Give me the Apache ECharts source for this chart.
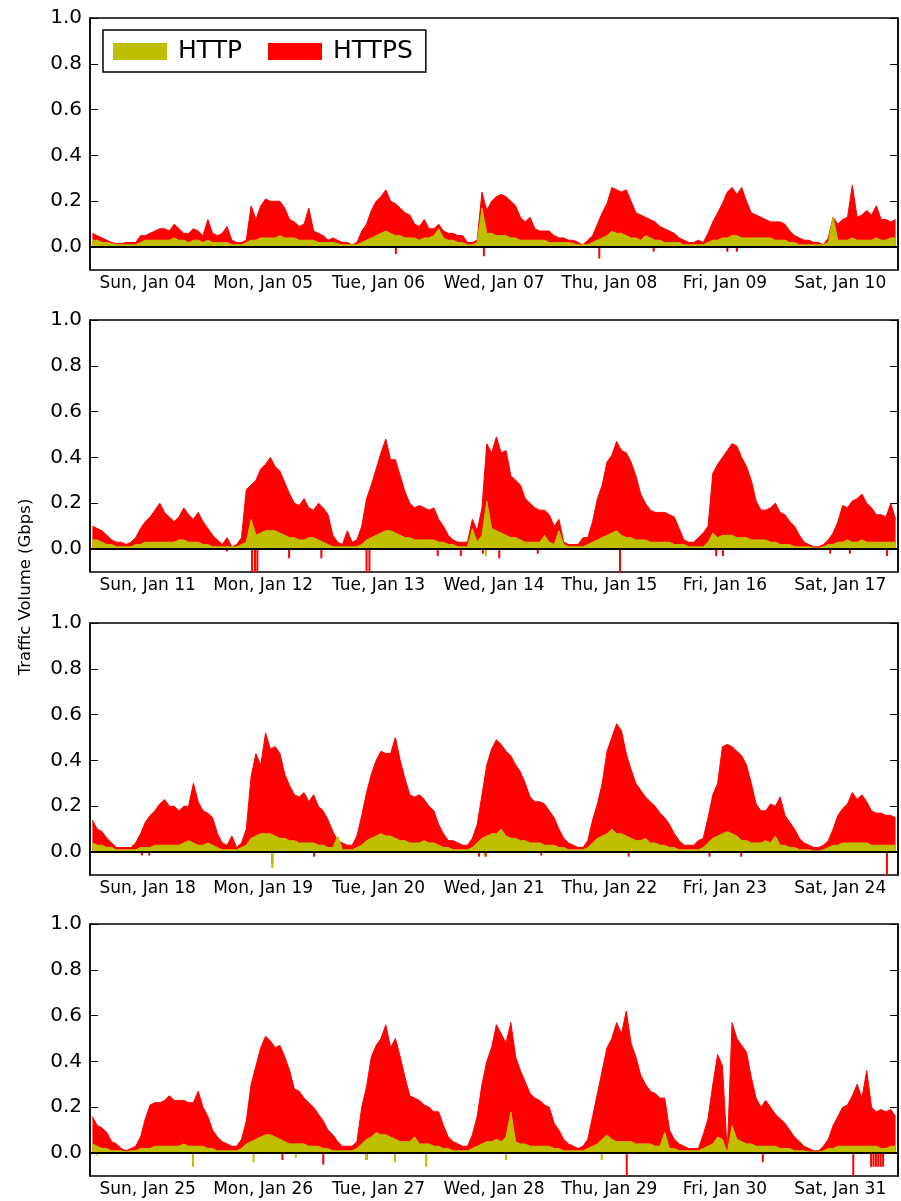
<!DOCTYPE html>
<html>
<head>
<meta charset="utf-8">
<script src="https://cdn.jsdelivr.net/npm/echarts@6/dist/echarts.min.js"></script>
<style>
  html, body { margin: 0; padding: 0; background: #fff; }
  #chart { width: 901px; height: 1201px; }
</style>
</head>
<body>
<div id="chart"></div>
<script>
// hourly HTTPS traffic (Gbps), one week per panel, Sun 00:00 .. Sat 23:00
const https1 = [
  0.06,0.05,0.04,0.03,0.02,0.015,0.015,0.02,0.02,0.02,0.05,0.05,0.06,0.07,0.08,0.08,0.07,0.1,0.08,0.06,0.06,0.08,0.07,0.05,
  0.12,0.06,0.05,0.06,0.09,0.03,0.02,0.02,0.03,0.18,0.12,0.18,0.21,0.2,0.2,0.2,0.17,0.12,0.11,0.09,0.1,0.17,0.07,0.06,
  0.05,0.03,0.04,0.03,0.02,0.02,0.01,0.02,0.07,0.1,0.16,0.2,0.22,0.25,0.2,0.19,0.17,0.15,0.14,0.1,0.09,0.12,0.08,0.08,
  0.1,0.07,0.06,0.06,0.05,0.05,0.02,0.02,0.03,0.24,0.16,0.2,0.22,0.23,0.22,0.2,0.18,0.13,0.11,0.13,0.08,0.07,0.07,0.07,
  0.05,0.04,0.04,0.03,0.03,0.02,0.01,0.03,0.05,0.1,0.15,0.19,0.26,0.25,0.24,0.25,0.2,0.15,0.14,0.13,0.12,0.11,0.09,0.08,
  0.07,0.06,0.04,0.03,0.02,0.02,0.03,0.02,0.06,0.11,0.15,0.19,0.24,0.26,0.23,0.26,0.2,0.15,0.14,0.13,0.12,0.11,0.11,0.11,
  0.1,0.07,0.05,0.04,0.03,0.03,0.02,0.02,0.01,0.04,0.13,0.1,0.12,0.13,0.27,0.13,0.14,0.16,0.14,0.18,0.12,0.12,0.11,0.12
];
const https2 = [
  0.1,0.09,0.08,0.06,0.04,0.03,0.03,0.02,0.03,0.05,0.09,0.12,0.14,0.17,0.2,0.16,0.14,0.12,0.14,0.18,0.15,0.13,0.16,0.12,
  0.09,0.06,0.04,0.02,0.05,0.01,0.02,0.05,0.26,0.28,0.3,0.35,0.37,0.4,0.36,0.34,0.29,0.24,0.2,0.19,0.22,0.18,0.17,0.2,
  0.18,0.15,0.06,0.03,0.02,0.08,0.03,0.04,0.1,0.22,0.28,0.35,0.42,0.48,0.39,0.39,0.32,0.25,0.2,0.18,0.19,0.18,0.17,0.18,
  0.13,0.1,0.06,0.04,0.03,0.03,0.03,0.13,0.08,0.18,0.46,0.42,0.49,0.42,0.43,0.32,0.3,0.28,0.22,0.2,0.18,0.17,0.17,0.15,
  0.1,0.13,0.03,0.02,0.02,0.02,0.05,0.05,0.12,0.22,0.28,0.38,0.41,0.47,0.43,0.42,0.38,0.32,0.24,0.2,0.17,0.16,0.16,0.16,
  0.15,0.14,0.09,0.04,0.03,0.03,0.05,0.07,0.1,0.33,0.37,0.4,0.43,0.46,0.45,0.4,0.36,0.3,0.21,0.17,0.17,0.18,0.2,0.16,
  0.15,0.12,0.1,0.06,0.03,0.02,0.01,0.01,0.02,0.04,0.07,0.12,0.19,0.18,0.21,0.22,0.24,0.2,0.18,0.15,0.15,0.14,0.2,0.13
];
const https3 = [
  0.14,0.1,0.09,0.06,0.04,0.02,0.02,0.02,0.02,0.04,0.08,0.13,0.16,0.18,0.21,0.23,0.2,0.2,0.18,0.2,0.2,0.3,0.22,0.18,
  0.17,0.15,0.08,0.04,0.03,0.07,0.02,0.04,0.1,0.33,0.43,0.38,0.52,0.45,0.46,0.43,0.34,0.29,0.25,0.24,0.26,0.22,0.25,0.2,
  0.18,0.14,0.09,0.05,0.04,0.03,0.03,0.07,0.16,0.26,0.34,0.4,0.44,0.43,0.43,0.5,0.4,0.32,0.25,0.24,0.25,0.23,0.2,0.18,
  0.12,0.08,0.05,0.05,0.04,0.03,0.03,0.06,0.12,0.25,0.38,0.45,0.49,0.47,0.44,0.42,0.38,0.35,0.3,0.24,0.22,0.22,0.21,0.18,
  0.15,0.1,0.06,0.04,0.03,0.02,0.02,0.05,0.14,0.21,0.3,0.44,0.5,0.56,0.53,0.43,0.36,0.3,0.27,0.24,0.22,0.2,0.17,0.15,
  0.12,0.08,0.05,0.03,0.03,0.03,0.05,0.06,0.15,0.25,0.3,0.46,0.47,0.46,0.44,0.42,0.38,0.3,0.21,0.18,0.18,0.21,0.2,0.24,
  0.16,0.13,0.1,0.06,0.04,0.03,0.02,0.02,0.03,0.05,0.1,0.16,0.19,0.21,0.26,0.23,0.25,0.22,0.18,0.17,0.17,0.16,0.16,0.15
];
const https4 = [
  0.16,0.12,0.11,0.09,0.05,0.04,0.02,0.01,0.02,0.03,0.07,0.15,0.21,0.22,0.22,0.23,0.25,0.23,0.23,0.23,0.22,0.22,0.27,0.2,
  0.16,0.1,0.07,0.05,0.04,0.03,0.03,0.06,0.14,0.3,0.38,0.46,0.51,0.49,0.46,0.47,0.42,0.36,0.28,0.27,0.24,0.22,0.2,0.17,
  0.14,0.1,0.08,0.05,0.03,0.03,0.03,0.05,0.2,0.29,0.42,0.47,0.5,0.56,0.46,0.5,0.42,0.33,0.25,0.24,0.23,0.21,0.2,0.18,
  0.18,0.12,0.07,0.05,0.04,0.03,0.03,0.08,0.16,0.3,0.4,0.46,0.56,0.52,0.48,0.57,0.42,0.36,0.31,0.26,0.24,0.23,0.21,0.2,
  0.13,0.1,0.06,0.04,0.03,0.02,0.03,0.06,0.16,0.26,0.36,0.46,0.5,0.57,0.52,0.62,0.48,0.42,0.34,0.3,0.27,0.26,0.24,0.24,
  0.1,0.06,0.04,0.03,0.02,0.02,0.02,0.08,0.15,0.3,0.43,0.38,0,0.57,0.5,0.47,0.44,0.33,0.24,0.2,0.23,0.2,0.17,0.15,
  0.13,0.1,0.07,0.05,0.03,0.02,0.01,0.01,0.03,0.06,0.12,0.16,0.2,0.21,0.25,0.3,0.24,0.36,0.2,0.18,0.19,0.18,0.19,0.16
];

// hourly HTTP traffic (Gbps)
const http1 = [
  0.03,0.03,0.02,0.02,0.015,0.01,0.01,0.01,0.01,0.01,0.02,0.03,0.03,0.03,0.03,0.03,0.03,0.04,0.03,0.03,0.02,0.03,0.03,0.02,
  0.03,0.02,0.02,0.02,0.02,0.01,0.01,0.01,0.02,0.03,0.03,0.04,0.04,0.04,0.04,0.05,0.04,0.04,0.04,0.03,0.03,0.03,0.03,0.02,
  0.02,0.02,0.02,0.015,0.01,0.01,0.01,0.01,0.02,0.03,0.04,0.05,0.06,0.07,0.06,0.05,0.05,0.04,0.04,0.04,0.03,0.04,0.04,0.05,
  0.08,0.04,0.03,0.03,0.02,0.02,0.01,0.01,0.02,0.17,0.06,0.06,0.05,0.05,0.05,0.04,0.04,0.03,0.03,0.03,0.03,0.03,0.03,0.02,
  0.02,0.02,0.02,0.02,0.015,0.01,0.01,0.01,0.02,0.03,0.04,0.05,0.07,0.06,0.06,0.05,0.04,0.04,0.03,0.05,0.04,0.03,0.03,0.02,
  0.02,0.02,0.02,0.01,0.01,0.01,0.01,0.01,0.02,0.03,0.03,0.04,0.04,0.05,0.05,0.04,0.04,0.04,0.04,0.04,0.04,0.04,0.03,0.03,
  0.03,0.02,0.02,0.01,0.01,0.01,0.01,0.01,0.01,0.02,0.13,0.03,0.03,0.03,0.04,0.03,0.03,0.03,0.03,0.04,0.03,0.03,0.04,0.04
];
const http2 = [
  0.04,0.04,0.03,0.02,0.02,0.01,0.01,0.01,0.01,0.02,0.02,0.03,0.03,0.03,0.03,0.03,0.03,0.03,0.04,0.04,0.03,0.03,0.03,0.02,
  0.02,0.01,0.01,0.01,0.01,0.01,0.01,0.02,0.03,0.13,0.06,0.07,0.08,0.08,0.08,0.07,0.06,0.05,0.05,0.04,0.04,0.05,0.05,0.04,
  0.03,0.02,0.01,0.01,0.01,0.01,0.01,0.01,0.02,0.04,0.05,0.06,0.07,0.08,0.08,0.07,0.06,0.05,0.05,0.04,0.04,0.04,0.04,0.04,
  0.03,0.03,0.02,0.02,0.01,0.01,0.01,0.09,0.03,0.06,0.21,0.09,0.08,0.07,0.06,0.05,0.05,0.04,0.03,0.03,0.03,0.03,0.06,0.03,
  0.02,0.08,0.02,0.01,0.01,0.01,0.01,0.02,0.03,0.04,0.05,0.06,0.07,0.08,0.06,0.05,0.05,0.04,0.04,0.04,0.03,0.03,0.03,0.03,
  0.03,0.02,0.02,0.02,0.01,0.01,0.01,0.01,0.03,0.07,0.05,0.06,0.06,0.06,0.05,0.05,0.05,0.04,0.04,0.04,0.04,0.03,0.03,0.02,
  0.02,0.02,0.01,0.01,0.01,0.01,0.005,0.005,0.01,0.02,0.02,0.03,0.03,0.04,0.03,0.03,0.04,0.03,0.03,0.03,0.03,0.03,0.03,0.03
];
const http3 = [
  0.04,0.03,0.03,0.02,0.02,0.01,0.01,0.01,0.01,0.01,0.02,0.02,0.02,0.03,0.03,0.03,0.03,0.03,0.03,0.04,0.05,0.04,0.03,0.03,
  0.04,0.03,0.02,0.01,0.01,0.01,0.01,0.02,0.03,0.06,0.07,0.08,0.08,0.08,0.07,0.06,0.06,0.05,0.05,0.04,0.04,0.04,0.04,0.03,
  0.03,0.02,0.02,0.07,0.01,0.01,0.01,0.02,0.03,0.05,0.06,0.07,0.08,0.07,0.07,0.06,0.05,0.05,0.04,0.04,0.04,0.05,0.04,0.04,
  0.03,0.02,0.02,0.01,0.01,0.01,0.01,0.02,0.04,0.06,0.07,0.08,0.08,0.1,0.07,0.06,0.06,0.05,0.05,0.04,0.04,0.04,0.03,0.03,
  0.03,0.02,0.02,0.01,0.01,0.01,0.01,0.02,0.04,0.06,0.07,0.08,0.1,0.08,0.08,0.07,0.06,0.05,0.05,0.06,0.04,0.04,0.03,0.03,
  0.02,0.02,0.01,0.01,0.01,0.01,0.01,0.02,0.04,0.06,0.07,0.08,0.09,0.08,0.07,0.05,0.05,0.04,0.04,0.04,0.05,0.04,0.07,0.03,
  0.03,0.02,0.02,0.01,0.01,0.01,0.005,0.005,0.01,0.02,0.03,0.03,0.04,0.04,0.04,0.04,0.04,0.04,0.03,0.03,0.03,0.03,0.03,0.03
];
const http4 = [
  0.04,0.03,0.02,0.02,0.01,0.01,0.01,0.005,0.01,0.01,0.02,0.02,0.02,0.03,0.03,0.03,0.03,0.03,0.03,0.04,0.03,0.03,0.03,0.03,
  0.02,0.02,0.01,0.01,0.01,0.01,0.01,0.02,0.04,0.05,0.06,0.07,0.08,0.08,0.07,0.06,0.05,0.04,0.04,0.04,0.04,0.03,0.03,0.03,
  0.02,0.02,0.01,0.01,0.01,0.01,0.01,0.02,0.04,0.06,0.07,0.09,0.08,0.08,0.07,0.06,0.05,0.05,0.05,0.07,0.04,0.04,0.04,0.03,
  0.03,0.02,0.02,0.01,0.01,0.01,0.01,0.02,0.03,0.04,0.05,0.05,0.06,0.05,0.07,0.18,0.05,0.04,0.04,0.03,0.03,0.03,0.03,0.03,
  0.02,0.02,0.01,0.01,0.01,0.01,0.01,0.02,0.03,0.04,0.06,0.08,0.06,0.05,0.05,0.05,0.05,0.04,0.04,0.04,0.04,0.03,0.03,0.09,
  0.02,0.02,0.01,0.01,0.01,0.01,0.01,0.02,0.03,0.04,0.07,0.06,0,0.12,0.06,0.05,0.04,0.04,0.03,0.03,0.03,0.03,0.03,0.02,
  0.02,0.02,0.01,0.01,0.01,0.005,0.005,0.005,0.01,0.02,0.02,0.03,0.03,0.03,0.03,0.03,0.03,0.03,0.03,0.03,0.02,0.02,0.03,0.03
];

// short negative readings: [hour of week, Gbps]
const httpsDips1 = [[63.6,-0.03],[81.9,-0.04],[105.9,-0.05],[117.2,-0.02],[132.5,-0.02],[134.5,-0.02]];
const httpsDips2 = [[28.5,-0.01],[33.7,-0.1],[34.3,-0.1],[34.8,-0.1],[41.4,-0.04],[48.1,-0.04],[57.5,-0.1],[58.1,-0.1],[72.3,-0.03],
  [77.1,-0.03],[81.7,-0.02],[85.1,-0.04],[93.1,-0.02],[110.2,-0.1],[130.2,-0.03],[131.6,-0.03],[153.9,-0.02],[158,-0.02],[165.7,-0.03]];
const httpsDips3 = [[10.8,-0.015],[12.3,-0.015],[37.9,-0.05],[46.6,-0.02],[80.9,-0.02],[82.3,-0.02],[93.8,-0.015],[112,-0.02],
  [128.8,-0.02],[135.4,-0.02],[165.7,-0.1]];
const httpsDips4 = [[40,-0.03],[48.5,-0.05],[57.5,-0.03],[86.5,-0.02],[111.6,-0.1],[139.9,-0.04],[158.7,-0.1],
  [162.4,-0.06],[162.9,-0.06],[163.4,-0.06],[163.9,-0.06],[164.4,-0.06],[164.9,-0.06]];
const httpDips1 = [];
const httpDips2 = [[82.3,-0.03]];
const httpDips3 = [[37.9,-0.07],[82,-0.02]];
const httpDips4 = [[1.4,-0.01],[21.4,-0.06],[34,-0.04],[42.8,-0.02],[57.5,-0.03],[63.4,-0.04],[69.9,-0.06],[86.5,-0.03],[106.4,-0.03]];

const dayLabels1 = ['Sun, Jan 04','Mon, Jan 05','Tue, Jan 06','Wed, Jan 07','Thu, Jan 08','Fri, Jan 09','Sat, Jan 10'];
const dayLabels2 = ['Sun, Jan 11','Mon, Jan 12','Tue, Jan 13','Wed, Jan 14','Thu, Jan 15','Fri, Jan 16','Sat, Jan 17'];
const dayLabels3 = ['Sun, Jan 18','Mon, Jan 19','Tue, Jan 20','Wed, Jan 21','Thu, Jan 22','Fri, Jan 23','Sat, Jan 24'];
const dayLabels4 = ['Sun, Jan 25','Mon, Jan 26','Tue, Jan 27','Wed, Jan 28','Thu, Jan 29','Fri, Jan 30','Sat, Jan 31'];

const yTicks = [0, 0.2, 0.4, 0.6, 0.8, 1.0];
const midnightTicks = [24, 48, 72, 96, 120, 144];
const noonLabels = [12, 36, 60, 84, 108, 132, 156];

const weeks = [
  { https: https1, http: http1, httpsDips: httpsDips1, httpDips: httpDips1, labels: dayLabels1 },
  { https: https2, http: http2, httpsDips: httpsDips2, httpDips: httpDips2, labels: dayLabels2 },
  { https: https3, http: http3, httpsDips: httpsDips3, httpDips: httpDips3, labels: dayLabels3 },
  { https: https4, http: http4, httpsDips: httpsDips4, httpDips: httpDips4, labels: dayLabels4 }
];

const RED = '#ff0000';
const OLIVE = '#bfbf00';
const FONT = 'DejaVu Sans';
const panelTops = [18, 320, 623, 924];
const panelHeight = 252;

const grids = [], xAxes = [], yAxes = [], series = [];
weeks.forEach((w, k) => {
  grids.push({
    left: 90, right: 3, top: panelTops[k], height: panelHeight,
    show: true, borderColor: '#000', borderWidth: 1.5, backgroundColor: '#fff'
  });
  xAxes.push({
    gridIndex: k, type: 'value', min: 0, max: 168,
    axisLine: { show: true, lineStyle: { color: '#000', width: 1.5 } },
    axisTick: { show: true, inside: true, length: 11, customValues: midnightTicks, lineStyle: { color: '#000', width: 1 } },
    axisLabel: {
      customValues: noonLabels, margin: 5, color: '#000', fontSize: 17, fontFamily: FONT,
      formatter: (v) => w.labels[Math.floor(v / 24)]
    },
    splitLine: { show: false }
  });
  const yBase = {
    gridIndex: k, type: 'value', min: -0.1, max: 1.0,
    axisLine: { show: true, lineStyle: { color: '#000', width: 1.5 } },
    axisTick: { show: true, inside: true, length: 8, customValues: yTicks, lineStyle: { color: '#000', width: 1 } },
    splitLine: { show: false }
  };
  yAxes.push(Object.assign({}, yBase, {
    position: 'left',
    axisLabel: { customValues: yTicks, margin: 8, color: '#000', fontSize: 20, fontFamily: FONT, formatter: (v) => v.toFixed(1) }
  }));
  yAxes.push(Object.assign({}, yBase, { position: 'right', axisLabel: { show: false } }));

  series.push({
    name: 'HTTPS', type: 'line', xAxisIndex: k, yAxisIndex: 2 * k,
    data: w.https.map((v, i) => [i + 0.5, v]),
    showSymbol: false, symbol: 'none',
    lineStyle: { color: RED, width: 1 }, itemStyle: { color: RED },
    areaStyle: { color: RED, opacity: 1 }, z: 2
  });
  series.push({
    name: 'HTTP', type: 'line', xAxisIndex: k, yAxisIndex: 2 * k,
    data: w.http.map((v, i) => [i + 0.5, v]),
    showSymbol: false, symbol: 'none',
    lineStyle: { color: OLIVE, width: 1 }, itemStyle: { color: OLIVE },
    areaStyle: { color: OLIVE, opacity: 1 }, z: 3,
    markLine: {
      silent: true, symbol: ['none', 'none'], label: { show: false },
      lineStyle: { color: '#000', width: 2, type: 'solid' },
      data: [{ yAxis: 0 }], z: 10
    }
  });
  series.push({
    name: 'HTTPS dips', type: 'bar', xAxisIndex: k, yAxisIndex: 2 * k,
    data: w.httpsDips, barWidth: 2, barGap: '-100%',
    itemStyle: { color: RED }, z: 2
  });
  series.push({
    name: 'HTTP dips', type: 'bar', xAxisIndex: k, yAxisIndex: 2 * k,
    data: w.httpDips, barWidth: 2, barGap: '-100%',
    itemStyle: { color: OLIVE }, z: 3
  });
});

const chart = echarts.init(document.getElementById('chart'), null, { renderer: 'canvas' });
chart.setOption({
  animation: false,
  backgroundColor: '#fff',
  grid: grids,
  xAxis: xAxes,
  yAxis: yAxes,
  series: series,
  legend: {
    data: ['HTTP', 'HTTPS'], selectedMode: false,
    left: 103, top: 30, orient: 'horizontal',
    padding: [9, 13, 8, 10], itemGap: 26,
    itemWidth: 54, itemHeight: 17, icon: 'rect',
    borderColor: '#000', borderWidth: 1.5, backgroundColor: '#fff',
    textStyle: { fontSize: 25, fontFamily: FONT, color: '#000', padding: [0, 0, 0, 6] }
  },
  graphic: [{
    type: 'text', x: 26, y: 587, rotation: Math.PI / 2,
    style: { text: 'Traffic Volume (Gbps)', fontSize: 16.5, fontFamily: FONT, fill: '#000', align: 'center', verticalAlign: 'middle' }
  }]
});
</script>
</body>
</html>
